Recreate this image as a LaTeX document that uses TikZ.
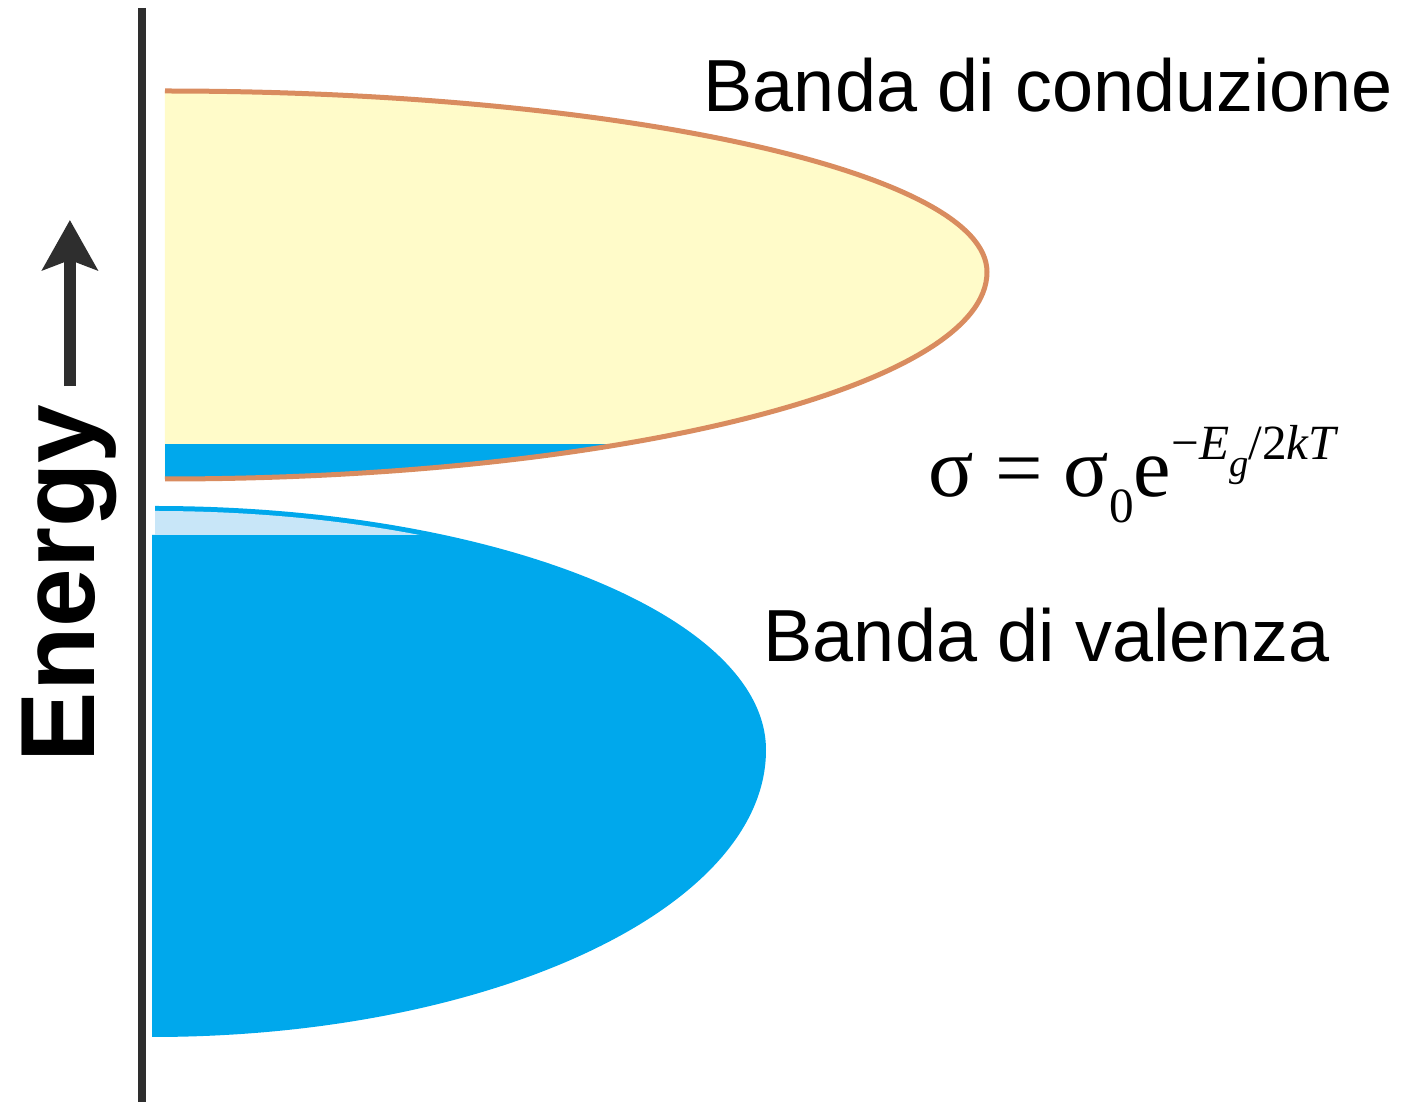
\documentclass[tikz,border=0pt]{standalone}
\usepackage{fontspec}
\usepackage{tikz}
\usetikzlibrary{arrows.meta,positioning}
\usepackage{xcolor}
\setmainfont{Liberation Sans}
\newfontfamily\eqfont{Liberation Serif}
\definecolor{condfill}{RGB}{255,251,201}
\definecolor{condedge}{RGB}{217,140,95}
\definecolor{bandblue}{RGB}{0,168,236}
\definecolor{paleblue}{RGB}{200,230,248}
\definecolor{axisgray}{RGB}{46,46,46}

\begin{document}
\begin{tikzpicture}[>={Stealth[length=5mm, width=5.5mm, inset=1mm]},
  label/.style={anchor=base west, inner sep=0pt, font=\fontsize{21}{24}\selectfont},
  axisline/.style={line width=0.8mm, axisgray},
  energyarrow/.style={->, line width=1.2mm, axisgray}]
  \useasboundingbox (0,0) rectangle (14.16,11.02);
  \draw[axisline] (1.42,10.94) -- (1.42,0);
  % conduction band
  \fill[condfill] (1.65,10.11) arc[start angle=90, end angle=0, x radius=8.22, y radius=1.81]
    arc[start angle=0, end angle=-90, x radius=8.22, y radius=2.07] -- cycle;
  \begin{scope}
    \clip (1.65,10.11) arc[start angle=90, end angle=0, x radius=8.22, y radius=1.81]
      arc[start angle=0, end angle=-90, x radius=8.22, y radius=2.07] -- cycle;
    \fill[bandblue] (1.65,6.2) rectangle (9.9,6.58);
  \end{scope}
  \draw[condedge, line width=0.5mm] (1.65,10.11) arc[start angle=90, end angle=0, x radius=8.22, y radius=1.81]
    arc[start angle=0, end angle=-90, x radius=8.22, y radius=2.07];
  % valence band
  \fill[bandblue] (1.55,5.96) arc[start angle=90, end angle=0, x radius=6.11, y radius=2.44]
    arc[start angle=0, end angle=-90, x radius=6.14, y radius=2.87] -- (1.52,0.65) -- (1.52,5.67) -- (1.55,5.67) -- cycle;
  \begin{scope}
    \clip (1.55,5.91) arc[start angle=90, end angle=0, x radius=6.05, y radius=2.39] -- (1.55,3.52) -- cycle;
    \fill[paleblue] (1.55,5.67) rectangle (6,6);
  \end{scope}
  \node[label] (cond) at (7.03,9.90) {Banda di conduzione};
  \node[label] (val) at (7.63,4.40) {Banda di valenza};
  \node[anchor=base west, inner sep=0pt, font=\eqfont\fontsize{24}{26}\selectfont] (rate) at (9.28,6.05)
    {σ = σ\raisebox{-0.3em}{\fontsize{14}{14}\selectfont 0}e\raisebox{0.45em}{\fontsize{14}{14}\selectfont −\textit{E}\raisebox{-0.35em}{\fontsize{11}{11}\selectfont\textit{g}}/2\textit{kT}}};
  \node[rotate=90, anchor=base west, inner sep=0pt, font=\bfseries\fontsize{30}{33}\selectfont] (energy) at (0.95,3.39) {Energy};
  \coordinate (etop) at (0.70,8.82);
  \draw[energyarrow] ([yshift=1.8mm]energy.east) -- (energy.east |- etop);
\end{tikzpicture}
\end{document}
